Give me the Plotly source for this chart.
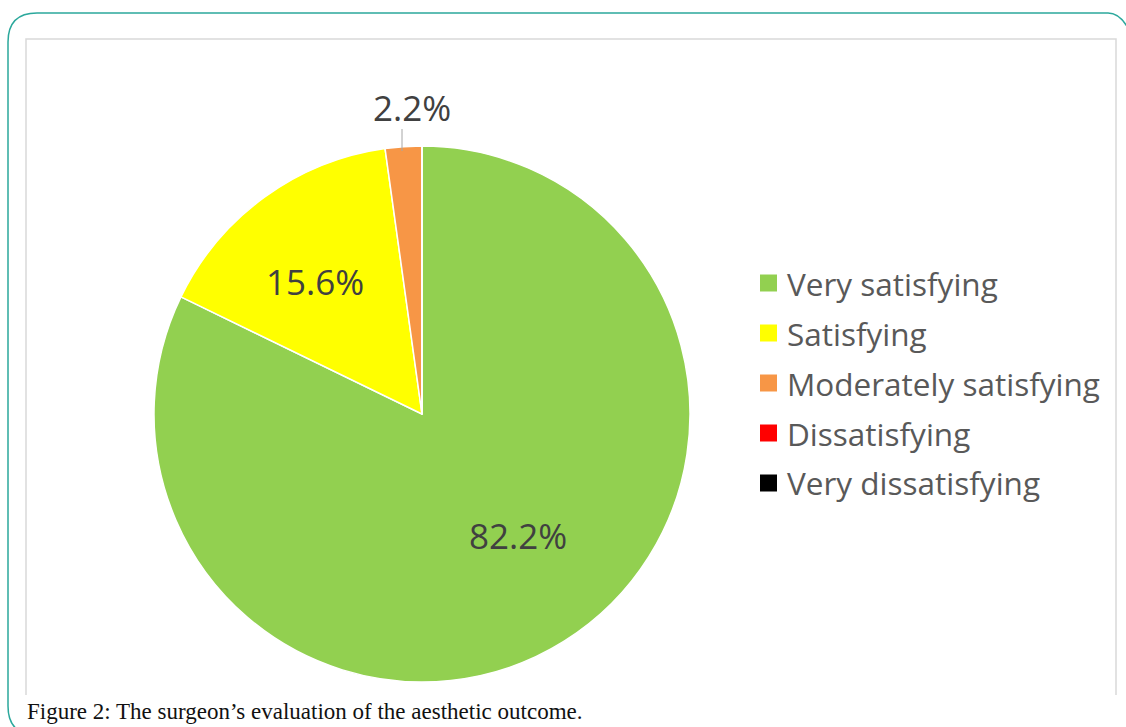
import plotly.graph_objects as go

# ---- data ----
categories = ["Very satisfying", "Satisfying", "Moderately satisfying",
              "Dissatisfying", "Very dissatisfying"]
values = [82.2, 15.6, 2.2, 0.0, 0.0]
colors = ["#92D050", "#FFFF00", "#F79646", "#FF0000", "#000000"]
caption = "Figure 2: The surgeon\u2019s evaluation of the aesthetic outcome."

W, H = 1126, 727


def X(px):
    return px / W


def Y(py):
    return 1 - py / H


# pie geometry (pixels)
cx, cy, r = 422, 414, 268

fig = go.Figure()
fig.add_trace(go.Pie(
    labels=categories,
    values=values,
    marker=dict(colors=colors, line=dict(color="white", width=1.5)),
    sort=False,
    direction="clockwise",
    rotation=0,
    textinfo="none",
    hoverinfo="label+percent",
    showlegend=False,
    domain=dict(x=[X(cx - r), X(cx + r)], y=[Y(cy + r), Y(cy - r)]),
))

annotations = []
shapes = []

# data labels
label_pos = [(518, 535), (315, 282), (412, 107)]
for v, (lx, ly) in zip(values[:3], label_pos):
    annotations.append(dict(
        x=X(lx), y=Y(ly), xref="paper", yref="paper", showarrow=False,
        text=f"{v:.1f}%", xanchor="center", yanchor="middle",
        font=dict(family="Open Sans", size=35, color="#404040")))
# leader line for the small slice
shapes.append(dict(type="line", xref="paper", yref="paper",
                   x0=X(402), x1=X(402), y0=Y(129), y1=Y(151),
                   line=dict(color="#A6A6A6", width=1)))

# custom legend
for i, (name, col) in enumerate(zip(categories, colors)):
    ycen = 283 + 50 * i
    shapes.append(dict(type="rect", xref="paper", yref="paper",
                       x0=X(760), x1=X(777), y0=Y(ycen - 8.5), y1=Y(ycen + 8.5),
                       fillcolor=col, line=dict(width=0)))
    annotations.append(dict(
        x=X(785), y=Y(ycen), xref="paper", yref="paper", showarrow=False,
        text=name, xanchor="left", yanchor="middle",
        font=dict(family="Open Sans", size=31.5, color="#595959")))

# inner chart frame (grey)
shapes.append(dict(type="path", xref="paper", yref="paper",
                   path=f"M {X(26)},{Y(695)} L {X(26)},{Y(39)} L {X(1116)},{Y(39)} L {X(1116)},{Y(695)}",
                   line=dict(color="#D9D9D9", width=1.5)))

# outer teal rounded frame
rr = 29
p = (f"M {X(1108)},{Y(13)} Q {X(1124)},{Y(13)} {X(1134)},{Y(13 + rr)} "
     f"M {X(1108)},{Y(13)} L {X(8 + rr)},{Y(13)} "
     f"Q {X(8)},{Y(13)} {X(8)},{Y(13 + rr)} "
     f"L {X(8)},{Y(735 - rr)} Q {X(8)},{Y(735)} {X(8 + rr)},{Y(735)}")
shapes.append(dict(type="path", xref="paper", yref="paper", path=p,
                   line=dict(color="#2BA89C", width=1.5)))

# caption
annotations.append(dict(
    x=X(25), y=Y(711), xref="paper", yref="paper", showarrow=False,
    text=caption, xanchor="left", yanchor="middle",
    font=dict(family="Liberation Serif", size=23, color="#111111")))

fig.update_layout(
    width=W, height=H,
    margin=dict(l=0, r=0, t=0, b=0),
    paper_bgcolor="white", plot_bgcolor="white",
    shapes=shapes, annotations=annotations,
)

fig.write_html(
    "out.html",
    config={"displayModeBar": False},
    post_script="document.body.style.margin='0';document.body.style.overflow='hidden';",
)
